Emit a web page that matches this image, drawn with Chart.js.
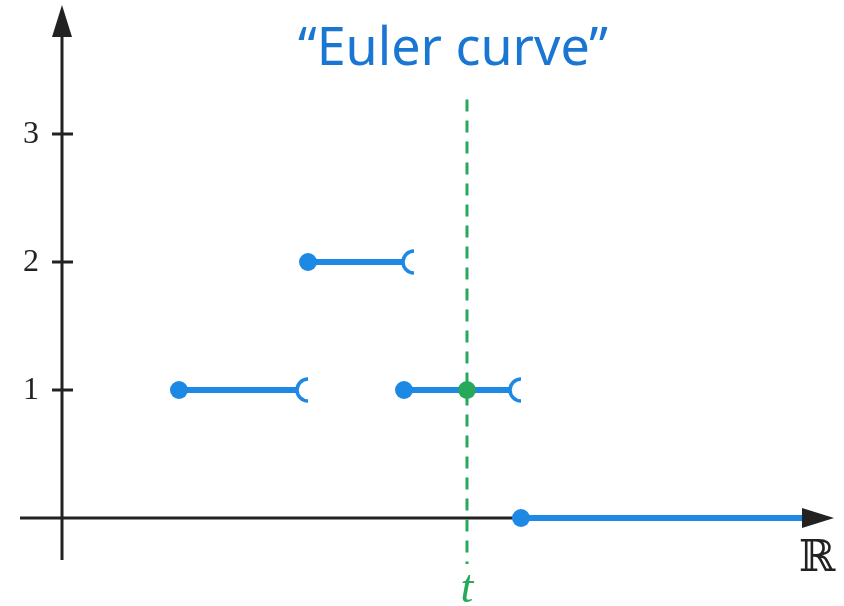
<!DOCTYPE html>
<html>
<head>
<meta charset="utf-8">
<script src="https://cdn.jsdelivr.net/npm/chart.js@4.4.0/dist/chart.umd.min.js"></script>
<style>
    html, body { margin: 0; padding: 0; background: #fff; }
    #wrap { width: 844px; height: 606px; }
</style>
</head>
<body>
<div id="wrap"><canvas id="euler" width="844" height="606"></canvas></div>
<script>
// piecewise constant "Euler curve": closed start (dot), open end (bracket)
var segStart = [0.914, 1.922, 2.672, 3.586];
var segEnd = [1.836, 2.664, 3.5, 5.8];
var segLevel = [1, 2, 1, 0];
var segOpenEnd = [true, true, true, false];
var yTicks = [1, 2, 3];
var tValue = 3.164;
var tLevel = 1;
var dashTop = 3.27;
var dashBottom = -0.36;

var BLUE = '#1e88e5';
var GREEN = '#27a85a';
var INK = '#222222';

var datasets = [];
segStart.forEach(function (x0, i) {
    datasets.push({
        data: [{x: x0, y: segLevel[i]}, {x: segEnd[i], y: segLevel[i]}],
        borderColor: BLUE,
        backgroundColor: BLUE,
        borderWidth: 6,
        pointRadius: [9, 0],
        pointHoverRadius: [9, 0],
        pointBorderWidth: 0,
        openEnd: segOpenEnd[i],
        order: 2
    });
});
// vertical line at t
datasets.push({
    data: [{x: tValue, y: dashTop}, {x: tValue, y: dashBottom}],
    borderColor: GREEN,
    borderWidth: 3,
    borderDash: [12, 9],
    pointRadius: 0,
    order: 3
});
datasets.push({
    data: [{x: tValue, y: tLevel}],
    backgroundColor: GREEN,
    borderWidth: 0,
    pointRadius: 9,
    showLine: false,
    order: 1
});

var axesPlugin = {
    id: 'axes',
    beforeDatasetsDraw: function (chart) {
        var ctx = chart.ctx;
        var xs = chart.scales.x, ys = chart.scales.y;
        var x0 = xs.getPixelForValue(0), y0 = ys.getPixelForValue(0);
        ctx.save();
        ctx.strokeStyle = INK;
        ctx.fillStyle = INK;
        ctx.lineWidth = 3;
        // y axis
        ctx.beginPath();
        ctx.moveTo(x0, 560);
        ctx.lineTo(x0, 30);
        ctx.stroke();
        // x axis
        ctx.beginPath();
        ctx.moveTo(20, y0);
        ctx.lineTo(810, y0);
        ctx.stroke();
        // ticks + labels
        ctx.font = '32px "Liberation Serif", serif';
        ctx.textAlign = 'center';
        ctx.textBaseline = 'middle';
        yTicks.forEach(function (v) {
            var py = ys.getPixelForValue(v);
            ctx.beginPath();
            ctx.moveTo(x0 - 10, py);
            ctx.lineTo(x0 + 11, py);
            ctx.stroke();
            ctx.fillText(String(v), 31, py + 1);
        });
        ctx.restore();
    },
    afterDatasetsDraw: function (chart) {
        var ctx = chart.ctx;
        var xs = chart.scales.x, ys = chart.scales.y;
        var x0 = xs.getPixelForValue(0), y0 = ys.getPixelForValue(0);
        ctx.save();
        // open ends
        ctx.strokeStyle = BLUE;
        ctx.lineWidth = 3.5;
        chart.data.datasets.forEach(function (ds) {
            if (!ds.openEnd) return;
            var p = ds.data[1];
            var px = xs.getPixelForValue(p.x), py = ys.getPixelForValue(p.y);
            ctx.beginPath();
            ctx.arc(px + 11, py, 11, Math.PI * 0.5, Math.PI * 1.5);
            ctx.stroke();
        });
        // arrow heads
        ctx.fillStyle = INK;
        ctx.beginPath();
        ctx.moveTo(x0, 5);
        ctx.lineTo(x0 - 10, 37);
        ctx.lineTo(x0 + 10, 37);
        ctx.closePath();
        ctx.fill();
        ctx.beginPath();
        ctx.moveTo(834, y0);
        ctx.lineTo(802, y0 - 10);
        ctx.lineTo(802, y0 + 10);
        ctx.closePath();
        ctx.fill();
        // texts
        ctx.textAlign = 'center';
        ctx.textBaseline = 'alphabetic';
        ctx.font = '44px "DejaVu Serif", serif';
        ctx.fillText('\u211D', 817, 571);
        ctx.fillStyle = GREEN;
        ctx.font = 'italic 46px "Liberation Serif", serif';
        ctx.fillText('t', xs.getPixelForValue(tValue), 602);
        ctx.fillStyle = '#1976d2';
        ctx.font = '52px "Noto Sans", sans-serif';
        ctx.fillText('\u201CEuler curve\u201D', 453, 65);
        ctx.restore();
    }
};

new Chart(document.getElementById('euler'), {
    type: 'line',
    data: {datasets: datasets},
    options: {
        responsive: false,
        animation: false,
        layout: {padding: 0, autoPadding: false},
        plugins: {legend: {display: false}, tooltip: {enabled: false}, title: {display: false}},
        scales: {
            x: {type: 'linear', display: false, min: -62 / 128, max: 782 / 128},
            y: {type: 'linear', display: false, min: -88 / 128, max: 518 / 128}
        }
    },
    plugins: [axesPlugin]
});
</script>
</body>
</html>
